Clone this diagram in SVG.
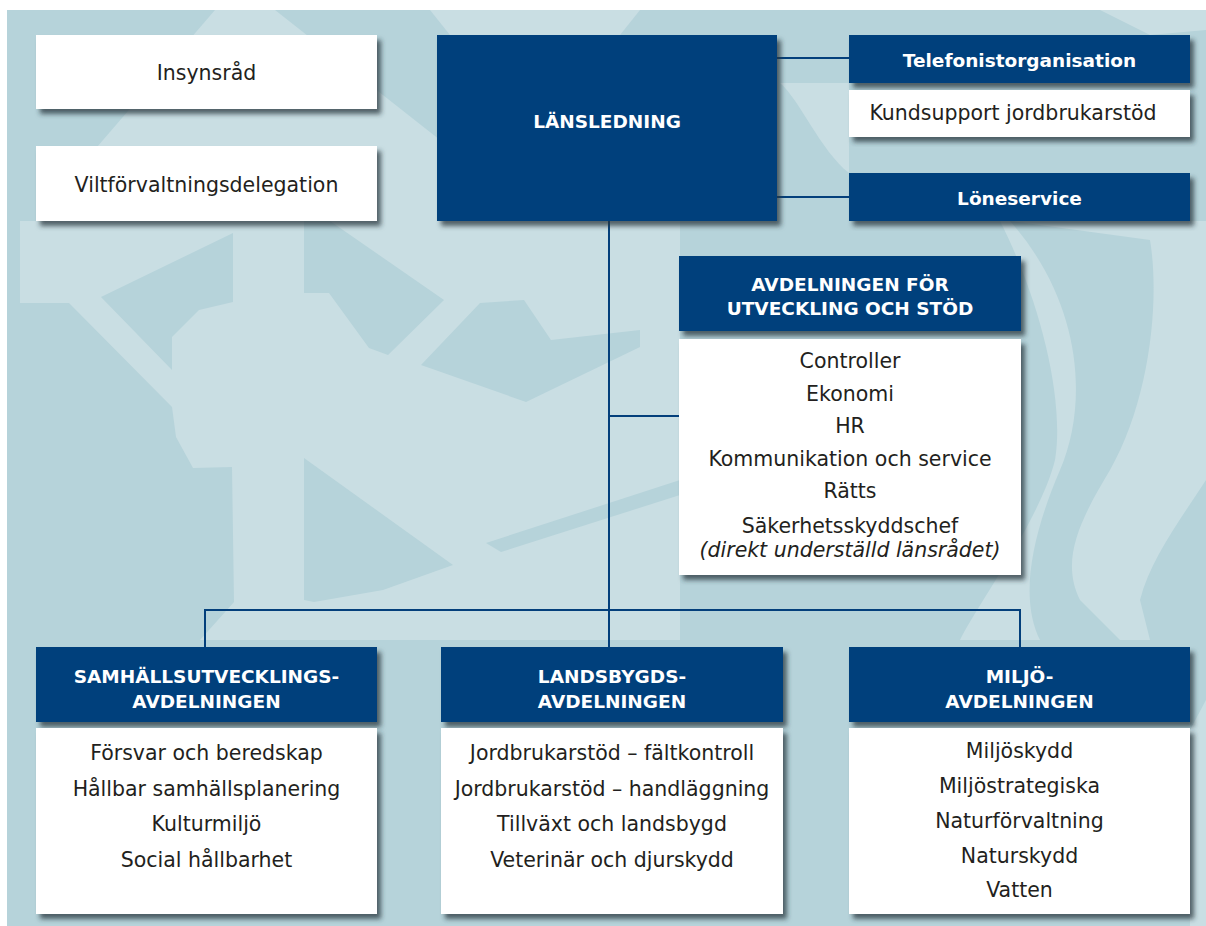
<svg xmlns="http://www.w3.org/2000/svg" width="1206" height="926" viewBox="0 0 1206 926">
  <style>
    .bg-dark { fill: #b6d3da; }
    .bg-light { fill: #c9dee3; }
    .navy { fill: #033f7b; }
    .white { fill: #ffffff; }
    .shadowed { filter: url(#boxShadow); }
    .body { font-family: "DejaVu Sans", "Liberation Sans", sans-serif; font-size: 20.5px; fill: #231f20; text-anchor: middle; }
    .body-it { font-family: "DejaVu Sans", "Liberation Sans", sans-serif; font-size: 20.5px; font-style: italic; fill: #231f20; text-anchor: middle; }
    .head { font-family: "DejaVu Sans", "Liberation Sans", sans-serif; font-size: 18.5px; font-weight: bold; fill: #ffffff; text-anchor: middle; }
    .link { fill: none; stroke: #033f7b; stroke-width: 2; }
  </style>
  <defs>
    <filter id="boxShadow" x="-10%" y="-10%" width="125%" height="130%">
      <feDropShadow dx="4" dy="5" stdDeviation="2.5" flood-color="#27363c" flood-opacity="0.75"/>
    </filter>
  </defs>

  <!-- page background with faint emblem pattern -->
  <rect x="0" y="0" width="1206" height="926" fill="#ffffff"/>
  <rect class="bg-dark" x="7" y="10" width="1199" height="916"/>
  <g id="background-pattern">
    <!-- upper roof-like wedge -->
    <polygon class="bg-light" points="215,10 275,10 440,140 440,221 60,221 60,190 "/>
    <!-- top swoosh right of centre -->
    <path class="bg-light" d="M430,10 L640,10 L600,60 L470,60 Z"/>
    <path class="bg-light" d="M780,83 C800,100 820,150 849,173 L849,83 Z"/>
    <path class="bg-light" d="M1100,10 L1206,10 L1206,30 L1150,35 Z"/>
    <!-- centre field -->
    <polygon class="bg-light" points="7,221 680,221 680,640 7,640"/>
    <!-- darker cut-outs of the emblem -->
    <polygon class="bg-dark" points="7,303 69,303 172,407 176,437 193,468 232,467 234,602 200,640 7,640"/>
    <polygon class="bg-dark" points="7,221 20,221 20,303 7,303"/>
    <polygon class="bg-dark" points="101,297 233,233 233,302 199,310 172,337 172,370"/>
    <polygon class="bg-dark" points="304,221 330,221 444,300 388,355 369,348 329,293 304,293"/>
    <polygon class="bg-dark" points="421,365 480,303 524,300 551,340 640,330 640,347 526,402"/>
    <polygon class="bg-dark" points="304,458 453,565 383,590 314,602 304,600"/>
    <polygon class="bg-dark" points="486,543 680,480 680,495 501,552"/>
    <!-- right-hand swoosh -->
    <path class="bg-light" d="M1000,221 L1206,221 L1206,480 C1180,520 1150,560 1140,600 L1150,640 L960,640 C980,600 1040,520 1055,460 C1065,400 1040,300 1000,221 Z"/>
    <path class="bg-dark" d="M1010,221 L1150,240 C1160,300 1150,400 1110,470 C1080,520 1060,560 1080,600 L1120,640 L1040,640 C1020,600 1030,540 1060,470 C1090,400 1080,300 1010,221 Z"/>
    <path class="bg-light" d="M1190,730 L1206,700 L1206,926 L1190,926 Z"/>
  </g>

  <!-- connectors -->
  <g id="connectors">
    <path class="link" d="M777,58 H849"/>
    <path class="link" d="M777,197 H849"/>
    <path class="link" d="M609,221 V647"/>
    <path class="link" d="M609,416 H679"/>
    <path class="link" d="M205,647 V610 H1020 V647"/>
  </g>

  <g id="insynsrad">
    <rect class="white shadowed" x="36" y="35" width="341" height="74"/>
    <text class="body" x="206.5" y="80">Insynsråd</text>
  </g>

  <g id="viltforvaltningsdelegation">
    <rect class="white shadowed" x="36" y="146" width="341" height="75"/>
    <text class="body" x="206.5" y="192">Viltförvaltningsdelegation</text>
  </g>

  <g id="lansledning">
    <rect class="navy shadowed" x="437" y="35" width="340" height="186"/>
    <text class="head" x="607" y="128">LÄNSLEDNING</text>
  </g>

  <g id="telefonistorganisation">
    <rect class="navy shadowed" x="849" y="35" width="341" height="48"/>
    <text class="head" x="1019.5" y="67">Telefonistorganisation</text>
    <rect class="white shadowed" x="849" y="90" width="341" height="47"/>
    <text class="body" x="1013" y="120">Kundsupport jordbrukarstöd</text>
  </g>

  <g id="loneservice">
    <rect class="navy shadowed" x="849" y="173" width="341" height="48"/>
    <text class="head" x="1019.5" y="205">Löneservice</text>
  </g>

  <g id="avdelningen-utveckling-stod">
    <rect class="navy shadowed" x="679" y="256" width="342" height="75"/>
    <text class="head" x="850" y="291">AVDELNINGEN FÖR</text>
    <text class="head" x="850" y="315">UTVECKLING OCH STÖD</text>
    <rect class="white shadowed" x="679" y="339" width="342" height="236"/>
    <text class="body" x="850" y="368">Controller</text>
    <text class="body" x="850" y="401">Ekonomi</text>
    <text class="body" x="850" y="433">HR</text>
    <text class="body" x="850" y="466">Kommunikation och service</text>
    <text class="body" x="850" y="498">Rätts</text>
    <text class="body" x="850" y="533">Säkerhetsskyddschef</text>
    <text class="body-it" x="850" y="557">(direkt underställd länsrådet)</text>
  </g>

  <g id="samhallsutvecklingsavdelningen">
    <rect class="navy shadowed" x="36" y="647" width="341" height="75"/>
    <text class="head" x="206.5" y="683">SAMHÄLLSUTVECKLINGS-</text>
    <text class="head" x="206.5" y="708">AVDELNINGEN</text>
    <rect class="white shadowed" x="36" y="728" width="341" height="186"/>
    <text class="body" x="206.5" y="760">Försvar och beredskap</text>
    <text class="body" x="206.5" y="796">Hållbar samhällsplanering</text>
    <text class="body" x="206.5" y="831">Kulturmiljö</text>
    <text class="body" x="206.5" y="867">Social hållbarhet</text>
  </g>

  <g id="landsbygdsavdelningen">
    <rect class="navy shadowed" x="441" y="647" width="342" height="75"/>
    <text class="head" x="612" y="683">LANDSBYGDS-</text>
    <text class="head" x="612" y="708">AVDELNINGEN</text>
    <rect class="white shadowed" x="441" y="728" width="342" height="186"/>
    <text class="body" x="612" y="760">Jordbrukarstöd – fältkontroll</text>
    <text class="body" x="612" y="796">Jordbrukarstöd – handläggning</text>
    <text class="body" x="612" y="831">Tillväxt och landsbygd</text>
    <text class="body" x="612" y="867">Veterinär och djurskydd</text>
  </g>

  <g id="miljoavdelningen">
    <rect class="navy shadowed" x="849" y="647" width="341" height="75"/>
    <text class="head" x="1019.5" y="683">MILJÖ-</text>
    <text class="head" x="1019.5" y="708">AVDELNINGEN</text>
    <rect class="white shadowed" x="849" y="728" width="341" height="186"/>
    <text class="body" x="1019.5" y="758">Miljöskydd</text>
    <text class="body" x="1019.5" y="793">Miljöstrategiska</text>
    <text class="body" x="1019.5" y="828">Naturförvaltning</text>
    <text class="body" x="1019.5" y="863">Naturskydd</text>
    <text class="body" x="1019.5" y="897">Vatten</text>
  </g>
</svg>
